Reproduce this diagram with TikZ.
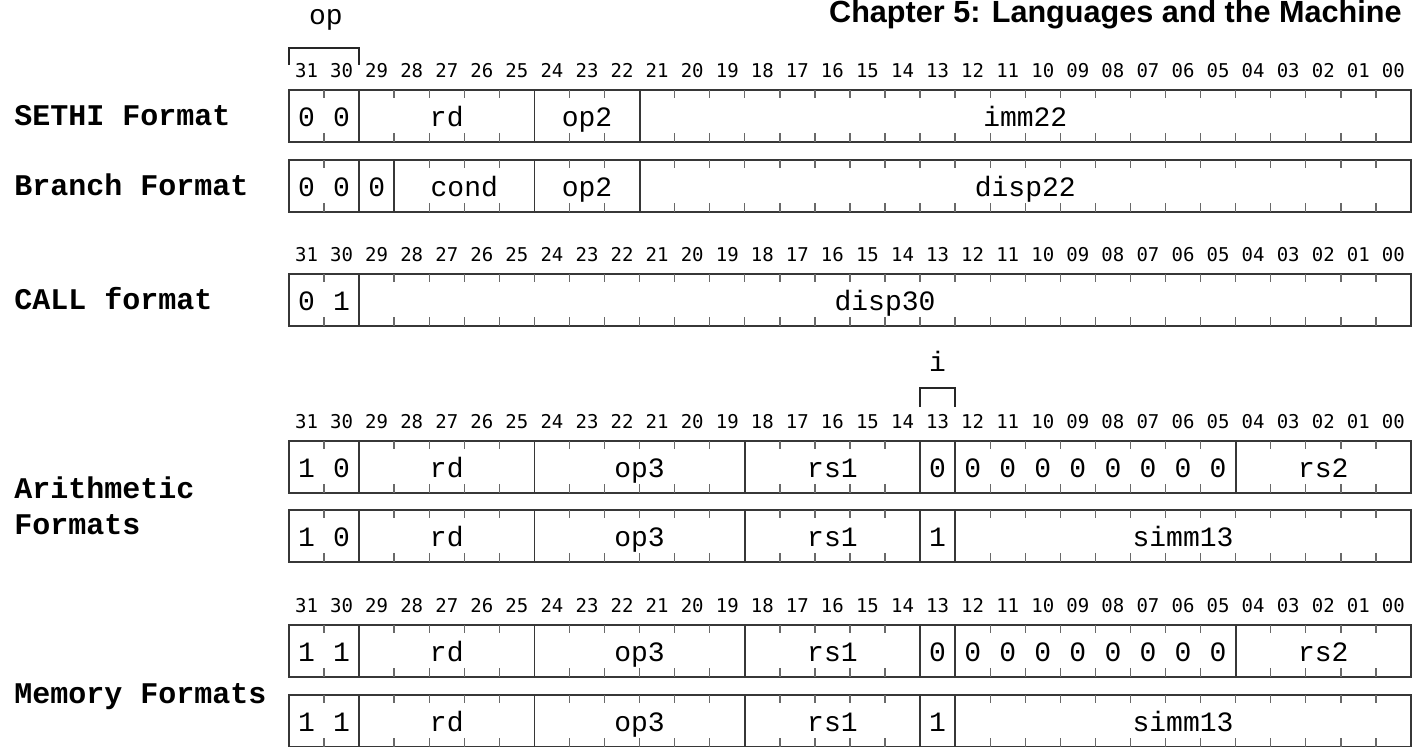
\documentclass[tikz,border=0pt]{standalone}
\usepackage{fontspec}
\setmainfont{Liberation Sans}
\newfontfamily\fieldfont{Liberation Mono}
\newfontfamily\bitfont{DejaVu Sans Mono}
\usetikzlibrary{positioning,calc}
\definecolor{boxgray}{RGB}{55,55,55}
\definecolor{tickgray}{RGB}{105,105,105}
\tikzset{
    regbox/.style={draw=boxgray, line width=0.9pt},
    fieldsep/.style={draw=boxgray, line width=0.9pt},
    bittick/.style={draw=tickgray, line width=0.7pt},
    bracket/.style={draw=black!85, line width=0.9pt},
    bitnum/.style={inner sep=0pt, anchor=base, font=\bitfont\fontsize{9.5}{11}\selectfont},
    field/.style={inner sep=0pt, anchor=base, font=\fieldfont\fontsize{14}{16}\selectfont},
    fmtlabel/.style={inner sep=0pt, anchor=west, align=left, font=\fieldfont\bfseries\fontsize{15}{18}\selectfont},
    chaptitle/.style={inner sep=0pt, anchor=base east, font=\bfseries\fontsize{15.3}{18}\selectfont},
}

\begin{document}
\begin{tikzpicture}[x=0.5pt, y=-0.5pt]
    \useasboundingbox (0,0) rectangle (1421,747);
    \def\xl{289}
    \def\cw{35.06}
    \def\bh{52}
    \node[chaptitle] (title) at (1402,22.5) {Chapter 5: Languages and the Machine};
    % Bit numbers above the boxes
    \foreach \ry [count=\r] in {90,274,441,625} {
        \foreach \k in {0,...,31} {
            \pgfmathtruncatemacro{\bit}{31-\k}
            \node[bitnum] (b\r-\k) at ({\xl+(\k+0.5)*\cw}, \ry-12) {\ifnum\bit<10 0\fi\bit};
        }
    }
    % Instruction boxes: top, field borders, field contents
    \foreach \ry/\seps/\texts [count=\r] in {
        90/{2,7,10}/{0.5/0,1.5/0,4.5/rd,8.5/op2,21/imm22},
        160/{2,3,7,10}/{0.5/0,1.5/0,2.5/0,5/cond,8.5/op2,21/disp22},
        274/{2}/{0.5/0,1.5/1,17/disp30},
        441/{2,7,13,18,19,27}/{0.5/1,1.5/0,4.5/rd,10/op3,15.5/rs1,18.5/0,19.5/0,20.5/0,21.5/0,22.5/0,23.5/0,24.5/0,25.5/0,26.5/0,29.5/rs2},
        510/{2,7,13,18,19}/{0.5/1,1.5/0,4.5/rd,10/op3,15.5/rs1,18.5/1,25.5/simm13},
        625/{2,7,13,18,19,27}/{0.5/1,1.5/1,4.5/rd,10/op3,15.5/rs1,18.5/0,19.5/0,20.5/0,21.5/0,22.5/0,23.5/0,24.5/0,25.5/0,26.5/0,29.5/rs2},
        695/{2,7,13,18,19}/{0.5/1,1.5/1,4.5/rd,10/op3,15.5/rs1,18.5/1,25.5/simm13}} {
        \draw[regbox] (\xl,\ry) rectangle (\xl+32*\cw,\ry+\bh);
        % tick marks on every bit
        \foreach \j in {1,...,31} {
            \draw[bittick] (\xl+\j*\cw,\ry) -- ++(0,8.5);
            \draw[bittick] (\xl+\j*\cw,\ry+\bh) -- ++(0,-8.5);
        }
        \foreach \j in \seps
            \draw[fieldsep] (\xl+\j*\cw,\ry) -- ++(0,\bh);
        \foreach \pos/\txt [count=\i] in \texts
            \node[field] (f\r-\i) at (\xl+\pos*\cw,\ry+37) {\txt};
    }
    % op and i brackets
    \coordinate (opa) at (\xl,65);
    \coordinate (opb) at (\xl+2*\cw,65);
    \draw[bracket] (opa) -- ++(0,-17) -| (opb);
    \node[field] (op) at (326,25) {op};
    \coordinate (ia) at (\xl+18*\cw,407);
    \coordinate (ib) at (\xl+19*\cw,407);
    \draw[bracket] (ia) -- ++(0,-19) -| (ib);
    \node[field] (ibit) at (\xl+18.5*\cw,372) {i};
    % Format names
    \node[fmtlabel, anchor=base west] (sethi) at (14,126) {SETHI Format};
    \node[fmtlabel, anchor=base west] (branch) at (14,196) {Branch Format};
    \node[fmtlabel, anchor=base west] (call) at (14,310) {CALL format};
    \node[fmtlabel] (arith) at (14,506) {Arithmetic\\Formats};
    \node[fmtlabel, anchor=base west] (mem) at (14,704) {Memory Formats};
\end{tikzpicture}
\end{document}
